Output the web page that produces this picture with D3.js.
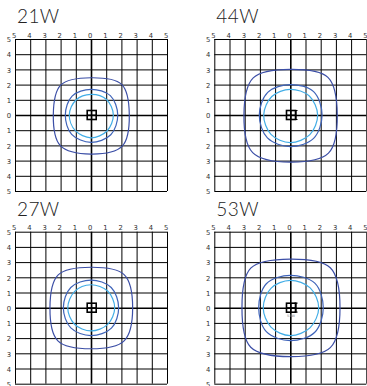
<!DOCTYPE html>
<html>
<head>
<meta charset="utf-8">
<script src="https://cdn.jsdelivr.net/npm/d3@7"></script>
<style>
  body { margin: 0; background: #fff; }
  .tick text { font-family: "DejaVu Sans", sans-serif; font-size: 6.8px; fill: #333; }
  .title { font-family: Lato, sans-serif; font-weight: 300; font-size: 19px; fill: #222; letter-spacing: 0.4px; }
</style>
</head>
<body>
<div id="chart"></div>
<script>
// panel names (lamp wattage)
var panelNames = ["21W", "44W", "27W", "53W"];

// grid ticks, -5..5
var tickValues = [-5, -4, -3, -2, -1, 0, 1, 2, 3, 4, 5];

// sample angles (deg) for the contour radii below
var angles = [0, 45, 90, 135, 180, 225, 270, 315];

// contour radii in grid units: outer, middle, inner
var outer21 = [2.52, 2.85, 2.45, 2.8, 2.48, 2.85, 2.57, 2.9];
var middle21 = [1.76, 1.8, 1.69, 1.76, 1.69, 1.8, 1.8, 1.84];
var inner21 = [1.47, 1.44, 1.36, 1.4, 1.43, 1.46, 1.5, 1.49];

var outer44 = [3.09, 3.5, 3.0, 3.45, 3.05, 3.5, 3.1, 3.55];
var middle44 = [2.09, 2.17, 2.0, 2.1, 2.04, 2.13, 2.08, 2.17];
var inner44 = [1.8, 1.77, 1.69, 1.72, 1.75, 1.8, 1.82, 1.82];

var outer27 = [2.74, 3.08, 2.66, 3.05, 2.7, 3.08, 2.7, 3.08];
var middle27 = [1.82, 1.88, 1.82, 1.88, 1.82, 1.88, 1.84, 1.9];
var inner27 = [1.56, 1.55, 1.51, 1.52, 1.53, 1.54, 1.53, 1.55];

var outer53 = [3.27, 3.72, 3.2, 3.68, 3.18, 3.68, 3.22, 3.72];
var middle53 = [2.17, 2.28, 2.13, 2.23, 2.08, 2.23, 2.17, 2.28];
var inner53 = [1.87, 1.85, 1.8, 1.8, 1.78, 1.8, 1.84, 1.85];

var contours = {
    "21W": [outer21, middle21, inner21],
    "44W": [outer44, middle44, inner44],
    "27W": [outer27, middle27, inner27],
    "53W": [outer53, middle53, inner53]
};
var bracketed = ["44W", "53W"];
var markerNote = { "53W": "53W" };

var contourColors = ["#3b4ea6", "#3e63b9", "#42ade6"];

var W = 367, H = 386;
var size = 152;
var origins = [[15, 39], [214.3, 39], [15, 231.7], [214.3, 231.7]];

var svg = d3.select("#chart").append("svg")
    .attr("width", W)
    .attr("height", H);

var x = d3.scaleLinear().domain([-5, 5]).range([0, size]);
var y = d3.scaleLinear().domain([5, -5]).range([0, size]);

var line = d3.line()
    .x(function(d) { return x(d[0]); })
    .y(function(d) { return y(d[1]); })
    .curve(d3.curveCatmullRomClosed.alpha(0.5));

panelNames.forEach(function(name, i) {
    var g = svg.append("g")
        .attr("transform", "translate(" + origins[i][0] + "," + origins[i][1] + ")");

    g.append("text")
        .attr("class", "title")
        .attr("x", 2)
        .attr("y", -16)
        .text(name);

    // grid via axes
    var top = g.append("g")
        .call(d3.axisTop(x).tickValues(tickValues).tickSize(-size).tickPadding(1.5)
            .tickFormat(function(d) { return Math.abs(d); }));
    var left = g.append("g")
        .call(d3.axisLeft(y).tickValues(tickValues).tickSize(-size).tickPadding(4)
            .tickFormat(function(d) { return Math.abs(d); }));
    [top, left].forEach(function(a) {
        a.select(".domain").remove();
        a.selectAll(".tick line")
            .attr("stroke", "#000")
            .attr("stroke-width", function(d) { return d === 0 ? 1.6 : 1; });
    });
    top.selectAll(".tick text").attr("dx", "-0.2em");
    left.selectAll(".tick text").attr("dy", "0.4em");

    // contours
    contours[name].forEach(function(radii, k) {
        var pts = radii.map(function(r, j) {
            var a = angles[j] * Math.PI / 180;
            return [r * Math.cos(a), r * Math.sin(a)];
        });
        g.append("path")
            .attr("d", line(pts))
            .attr("fill", "none")
            .attr("stroke", contourColors[k])
            .attr("stroke-width", 1.2);
    });

    // lamp marker
    var cx = x(0) + 0.7, cy = y(0);
    var m = g.append("g").attr("stroke", "#000").attr("stroke-width", 1.6).attr("fill", "none");
    m.append("rect").attr("x", cx - 4.5).attr("y", cy - 4.5).attr("width", 9).attr("height", 9);
    m.append("line").attr("x1", cx).attr("x2", cx).attr("y1", cy - 4.5).attr("y2", cy + 4.5).attr("stroke-width", 1);
    m.append("line").attr("x1", cx - 4.5).attr("x2", cx + 4.5).attr("y1", cy).attr("y2", cy).attr("stroke-width", 1);
    if (bracketed.indexOf(name) >= 0) {
        m.append("path")
            .attr("d", "M" + (cx + 3.5) + "," + (cy - 4.5) + "h3M" + (cx + 5) + "," + (cy - 4.5) +
                "v9M" + (cx + 3.5) + "," + (cy + 4.5) + "h3")
            .attr("stroke-width", 1.2);
    }
    if (markerNote[name]) {
        g.append("text")
            .attr("x", cx)
            .attr("y", cy + 9.5)
            .attr("text-anchor", "middle")
            .style("font-family", "DejaVu Sans, sans-serif")
            .style("font-size", "3.5px")
            .style("fill", "#888")
            .text(markerNote[name]);
    }
});
</script>
</body>
</html>
